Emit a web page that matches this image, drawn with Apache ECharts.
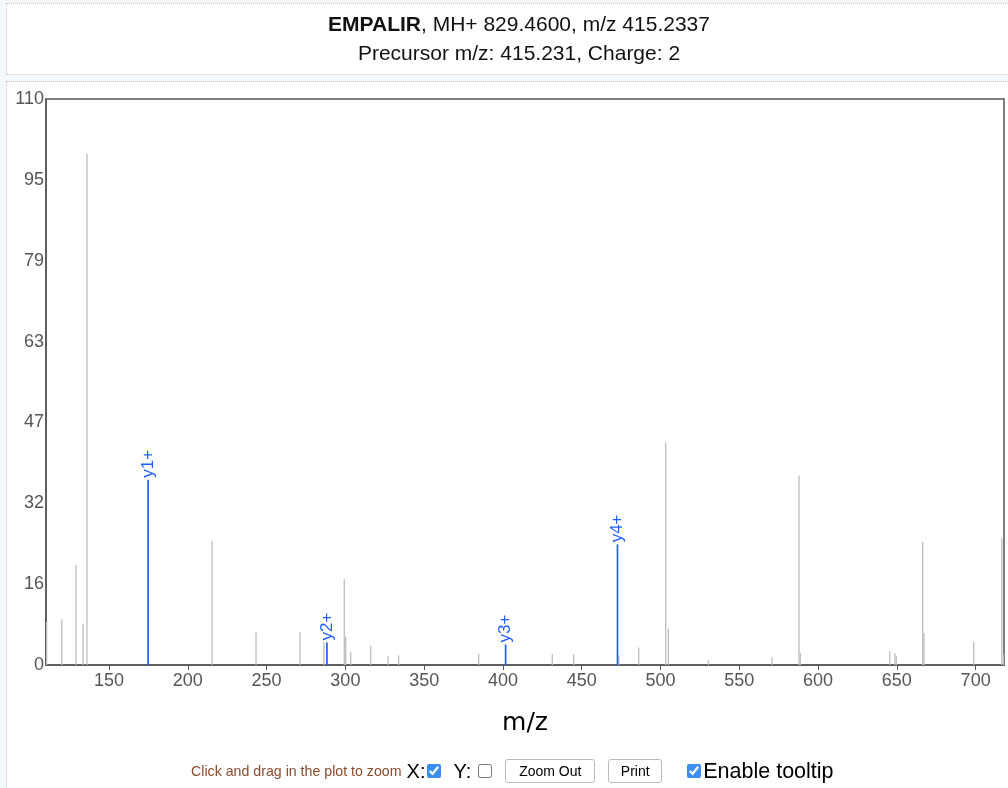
<!DOCTYPE html>
<html>
<head>
<meta charset="utf-8">
<script src="https://cdn.jsdelivr.net/npm/echarts@6/dist/echarts.min.js"></script>
<style>
  body { margin: 0; background: #f4f8fa; font-family: "Liberation Sans", Arial, sans-serif; }
  .box { position: absolute; background: #fff; border: 1px dotted #c8c8c8; }
  #titleBox { left: 6px; top: 3px; width: 1030px; height: 70px; }
  #plotBox { left: 6px; top: 81px; width: 1030px; height: 720px; }
  #chart { position: absolute; left: 0; top: 0; width: 1008px; height: 788px; }
  #controls { position: absolute; left: 191px; top: 758px; height: 26px; display: flex; align-items: center; white-space: nowrap; }
  #controls .hint { color: #8b4a2b; font-size: 14.2px; margin-right: 5px; }
  #controls .lbl { font-size: 20px; color: #000; }
  #controls input[type=checkbox] { width: 14px; height: 14px; margin: 0 12px 0 2px; accent-color: #3b8ff0; }
  #controls button { font-family: inherit; font-size: 14px; background: #fff; border: 1px solid #bbb; border-radius: 3px; height: 24px; padding: 0; margin-right: 13px; }
</style>
</head>
<body>
<div id="titleBox" class="box"></div>
<div id="plotBox" class="box"></div>
<div id="chart"></div>
<div id="controls">
  <span class="hint">Click and drag in the plot to zoom</span>
  <span class="lbl">X:</span><input type="checkbox" checked>
  <span class="lbl">Y:</span><input type="checkbox" style="margin:0 13px 0 7px">
  <button style="width:90px">Zoom Out</button>
  <button style="width:54px">Print</button>
  <input type="checkbox" checked style="margin:0 2px 0 12px"><span class="lbl" style="font-size:21.5px">Enable tooltip</span>
</div>
<script>
// unannotated peaks (m/z, relative intensity)
var peakMz = [110.4, 120.0, 129.0, 133.5, 136.0, 215.4, 243.3, 271.2, 286.4, 299.3, 300.2, 303.4, 316.1, 327.1, 333.8,
  384.6, 431.3, 444.9, 473.5, 486.2, 503.3, 505.0, 530.4, 570.8, 587.9, 588.7, 645.5, 648.8, 649.7, 666.4, 667.2,
  698.8, 716.6, 717.6];
var peakInt = [8.4, 8.9, 19.5, 8.1, 99.6, 24.2, 6.4, 6.4, 4.5, 16.7, 5.5, 2.5, 3.8, 1.7, 1.9,
  2.2, 2.1, 2.1, 1.9, 3.4, 43.4, 7.1, 0.9, 1.5, 36.9, 2.4, 2.7, 2.3, 1.7, 23.9, 6.2,
  4.5, 24.7, 2.1];

// annotated y ions
var ionNames = ["y1+", "y2+", "y3+", "y4+"];
var ionMz = [174.8, 288.3, 401.7, 472.7];
var ionInt = [36.1, 4.4, 4.0, 23.5];

var mzMin = 110, mzMax = 718;
var mzTicks = [150, 200, 250, 300, 350, 400, 450, 500, 550, 600, 650, 700];

var FONT = '"Liberation Sans", Arial, sans-serif';
var BLUE = "#1f5fff";

function pairs(xs, ys) {
  return xs.map(function (x, i) { return [x, ys[i]]; });
}

function stickRenderer(color, width, names) {
  return function (params, api) {
    var base = api.coord([api.value(0), 0]);
    var top = api.coord([api.value(0), api.value(1)]);
    var children = [{
      type: "line",
      shape: { x1: base[0], y1: base[1], x2: top[0], y2: top[1] },
      style: { stroke: color, lineWidth: width }
    }];
    if (names) {
      children.push({
        type: "text",
        x: top[0],
        y: top[1] - 2,
        rotation: Math.PI / 2,
        style: {
          text: names[params.dataIndex],
          fill: color,
          font: "17px " + FONT,
          align: "left",
          verticalAlign: "middle"
        }
      });
    }
    return { type: "group", children: children };
  };
}

var chart = echarts.init(document.getElementById("chart"));
chart.setOption({
  animation: false,
  title: {
    left: 514,
    top: 6,
    textAlign: "center",
    text: "{b|EMPALIR}, MH+ 829.4600, m/z 415.2337\nPrecursor m/z: 415.231, Charge: 2",
    textStyle: {
      fontFamily: FONT,
      fontSize: 21,
      fontWeight: "normal",
      color: "#111",
      lineHeight: 29,
      rich: {
        b: { fontFamily: FONT, fontSize: 21, fontWeight: "bold", color: "#111", lineHeight: 29 }
      }
    }
  },
  grid: {
    left: 46, top: 99, width: 958, height: 566,
    containLabel: false,
    show: true,
    borderColor: "#555",
    borderWidth: 1.5,
    backgroundColor: "transparent"
  },
  xAxis: {
    type: "value",
    min: mzMin,
    max: mzMax,
    name: "m/z",
    nameLocation: "middle",
    nameGap: 46,
    nameTextStyle: { fontFamily: "DejaVu Sans", fontSize: 25, color: "#000" },
    axisLine: { lineStyle: { color: "#555", width: 1.5 } },
    axisTick: { show: true, length: 5, lineStyle: { color: "#555" }, customValues: mzTicks },
    axisLabel: { fontFamily: FONT, fontSize: 18, color: "#555", margin: 7, customValues: mzTicks },
    splitLine: { show: false }
  },
  yAxis: {
    type: "value",
    min: 0,
    max: 110.25,
    interval: 15.75,
    axisLine: { show: true, lineStyle: { color: "#555", width: 1.5 } },
    axisTick: { show: false },
    axisLabel: {
      fontFamily: FONT, fontSize: 18, color: "#555", margin: 2,
      showMaxLabel: true,
      formatter: function (v) { return String(Math.round(v)); }
    },
    splitLine: { show: false }
  },
  series: [
    {
      type: "custom",
      clip: true,
      renderItem: stickRenderer("#bdbdbd", 1.3),
      data: pairs(peakMz, peakInt)
    },
    {
      type: "custom",
      clip: false,
      renderItem: stickRenderer(BLUE, 1.7, ionNames),
      data: pairs(ionMz, ionInt)
    }
  ]
});
</script>
</body>
</html>
